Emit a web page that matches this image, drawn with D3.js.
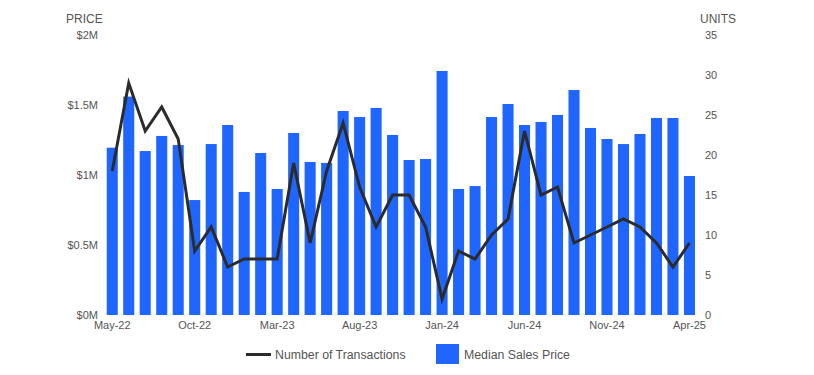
<!DOCTYPE html>
<html>
<head>
<meta charset="utf-8">
<script src="https://cdn.jsdelivr.net/npm/d3@7"></script>
<style>
  body { margin: 0; background: #fff; }
  text { font-family: "Liberation Sans", Arial, sans-serif; fill: #555; }
</style>
</head>
<body>
<script>
'use strict';

// Data ==========================================
var months = ['May-22','Jun-22','Jul-22','Aug-22','Sep-22','Oct-22','Nov-22','Dec-22',
  'Jan-23','Feb-23','Mar-23','Apr-23','May-23','Jun-23','Jul-23','Aug-23','Sep-23','Oct-23',
  'Nov-23','Dec-23','Jan-24','Feb-24','Mar-24','Apr-24','May-24','Jun-24','Jul-24','Aug-24',
  'Sep-24','Oct-24','Nov-24','Dec-24','Jan-25','Feb-25','Mar-25','Apr-25'];

// median sales price, $M
var medianPrice = [1.195,1.56,1.171,1.279,1.214,0.821,1.221,1.357,0.879,1.157,0.9,1.3,
  1.093,1.086,1.457,1.414,1.479,1.286,1.107,1.114,1.743,0.9,0.921,1.414,1.507,1.357,
  1.379,1.429,1.607,1.336,1.257,1.221,1.293,1.407,1.407,0.993];

// number of transactions
var transactions = [18,29,23,26,22,8,11,6,7,7,7,19,9,18,24,16,11,15,15,11,2,8,7,10,12,
  23,15,16,9,10,11,12,11,9,6,9];

var priceTicks = [0, 0.5, 1, 1.5, 2];
var priceTickLabels = ['$0M','$0.5M','$1M','$1.5M','$2M'];
var unitTicks = [0,5,10,15,20,25,30,35];
var xTickLabels = ['May-22','Oct-22','Mar-23','Aug-23','Jan-24','Jun-24','Nov-24','Apr-25'];

//Sizing things.
var width = 814, height = 375;
var plotLeft = 104, plotRight = 697.7, plotTop = 35, plotBottom = 315;
var barColor = '#1f66ff', lineColor = '#2b2b2b';
var fontFam = '"Liberation Sans", Arial, sans-serif';

var svg = d3.select('body').append('svg')
  .attr('width', width)
  .attr('height', height);

var x = d3.scaleBand().domain(months).range([plotLeft, plotRight]).paddingInner(0.33).paddingOuter(0.165);
var yPrice = d3.scaleLinear().domain([0, 2]).range([plotBottom, plotTop]);
var yUnits = d3.scaleLinear().domain([0, 35]).range([plotBottom, plotTop]);

// bars
svg.append('g').selectAll('rect')
  .data(medianPrice)
  .enter().append('rect')
  .attr('x', function (d, i) { return x(months[i]); })
  .attr('y', function (d) { return yPrice(d); })
  .attr('width', x.bandwidth())
  .attr('height', function (d) { return yPrice(0) - yPrice(d); })
  .attr('fill', barColor);

// transactions line
var line = d3.line()
  .x(function (d, i) { return x(months[i]) + x.bandwidth() / 2; })
  .y(function (d) { return yUnits(d); });

svg.append('path')
  .datum(transactions)
  .attr('d', line)
  .attr('fill', 'none')
  .attr('stroke', lineColor)
  .attr('stroke-width', 3)
  .attr('stroke-linejoin', 'miter');

// left axis
var leftAxis = d3.axisLeft(yPrice)
  .tickValues(priceTicks)
  .tickFormat(function (d, i) { return priceTickLabels[i]; })
  .tickSize(0).tickPadding(0);
var gl = svg.append('g').attr('transform', 'translate(98,0)').call(leftAxis);
gl.select('.domain').remove();
gl.selectAll('text').style('font-size', '11px').style('fill', '#555').style('font-family', fontFam);

// right axis
var rightAxis = d3.axisRight(yUnits)
  .tickValues(unitTicks)
  .tickSize(0).tickPadding(0);
var gr = svg.append('g').attr('transform', 'translate(705,0)').call(rightAxis);
gr.select('.domain').remove();
gr.selectAll('text').style('font-size', '11px').style('fill', '#555').style('font-family', fontFam);

// bottom axis
var bottomAxis = d3.axisBottom(x)
  .tickValues(xTickLabels)
  .tickSize(0).tickPadding(6);
var gb = svg.append('g').attr('transform', 'translate(0,' + plotBottom + ')').call(bottomAxis);
gb.select('.domain').remove();
gb.selectAll('text').style('font-size', '11px').style('fill', '#555').style('font-family', fontFam);

// axis titles
svg.append('text').attr('x', 66).attr('y', 23).style('font-size', '12px').text('PRICE');
svg.append('text').attr('x', 700).attr('y', 23).style('font-size', '12px').text('UNITS');

// legend
var legend = svg.append('g');
legend.append('line')
  .attr('x1', 246).attr('x2', 271).attr('y1', 354.5).attr('y2', 354.5)
  .attr('stroke', lineColor).attr('stroke-width', 3);
legend.append('text').attr('x', 275).attr('y', 359).style('font-size', '12.3px')
  .text('Number of Transactions');
legend.append('rect')
  .attr('x', 436).attr('y', 344).attr('width', 23).attr('height', 20)
  .attr('fill', barColor);
legend.append('text').attr('x', 464).attr('y', 359).style('font-size', '12.3px')
  .text('Median Sales Price');
</script>
</body>
</html>
